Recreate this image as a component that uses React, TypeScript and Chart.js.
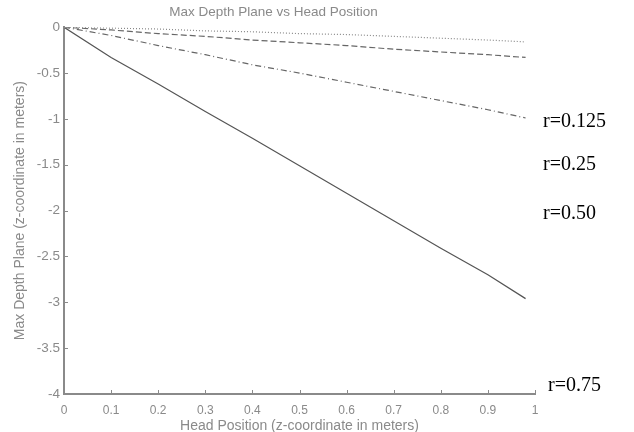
import React, { useEffect, useRef } from "react";
import { Chart, registerables } from "chart.js";
Chart.register(...registerables);

const xR0125 = [0, 0.1, 0.2, 0.3, 0.4, 0.5, 0.6, 0.7, 0.8, 0.9, 0.98];
const solidY = [0, -0.33, -0.62, -0.92, -1.21, -1.51, -1.81, -2.11, -2.41, -2.70, -2.96];
const dashDotY = [0, -0.09, -0.2, -0.3, -0.41, -0.5, -0.6, -0.7, -0.8, -0.9, -0.99];
const dashedY = [0, -0.03, -0.07, -0.1, -0.14, -0.17, -0.2, -0.24, -0.27, -0.3, -0.33];
const dottedY = [0, -0.01, -0.02, -0.04, -0.05, -0.07, -0.08, -0.1, -0.12, -0.14, -0.16];
const rLabels = ["r=0.125", "r=0.25", "r=0.50", "r=0.75"];
const rLabelY = [-1.035, -1.5, -2.03, -3.91];

const title = "Max Depth Plane vs Head Position";
const xTitle = "Head Position (z-coordinate in meters)";
const yTitle = "Max Depth Plane (z-coordinate in meters)";

const GRAY = "#8a8a8a";
const FONT = "Arial, 'Liberation Sans', sans-serif";

const pts = (ys: number[]) => ys.map((y, i) => ({ x: xR0125[i], y }));

const extras = {
  id: "extras",
  afterDraw(chart: any) {
    const { ctx, chartArea, scales } = chart;
    const xs = scales.x, ys = scales.y;
    ctx.save();
    ctx.strokeStyle = GRAY;
    ctx.lineWidth = 1;
    for (let v = 0.1; v <= 1.0001; v += 0.1) {
      const px = Math.round(xs.getPixelForValue(v)) + 0.5;
      ctx.beginPath();
      ctx.moveTo(px, chartArea.bottom);
      ctx.lineTo(px, chartArea.bottom - 4);
      ctx.stroke();
    }
    for (let v = -4; v <= 0.0001; v += 0.5) {
      const py = Math.round(ys.getPixelForValue(v)) + 0.5;
      ctx.beginPath();
      ctx.moveTo(chartArea.left, py);
      ctx.lineTo(chartArea.left + 4, py);
      ctx.stroke();
    }
    ctx.fillStyle = "#000";
    ctx.font = "20px 'Liberation Serif', 'Times New Roman', serif";
    ctx.textBaseline = "middle";
    ctx.textAlign = "left";
    rLabels.forEach((t, i) => {
      ctx.fillText(t, chartArea.right + (i === 3 ? 13 : 8), ys.getPixelForValue(rLabelY[i]));
    });
    ctx.restore();
  },
};

export default function App() {
  const ref = useRef<HTMLCanvasElement>(null);
  useEffect(() => {
    document.body.style.margin = "0";
    const chart = new Chart(ref.current!, {
      type: "line",
      data: {
        datasets: [
          { data: pts(solidY), borderColor: "#555", borderWidth: 1.2, pointRadius: 0 },
          { data: pts(dashDotY), borderColor: "#666", borderWidth: 1.2, borderDash: [6, 3, 1, 3], pointRadius: 0 },
          { data: pts(dashedY), borderColor: "#666", borderWidth: 1.2, borderDash: [6, 3], pointRadius: 0 },
          { data: pts(dottedY), borderColor: "#888", borderWidth: 1.2, borderDash: [1, 2], pointRadius: 0 },
        ],
      },
      plugins: [extras],
      options: {
        responsive: false,
        animation: false,
        layout: { padding: { left: 12, right: 99, top: 0, bottom: 0 } },
        plugins: {
          legend: { display: false },
          tooltip: { enabled: false },
          title: {
            display: true,
            text: title,
            color: GRAY,
            font: { family: FONT, size: 13.5, weight: "normal" },
            padding: { top: 4, bottom: 7 },
          },
        },
        scales: {
          x: {
            type: "linear",
            min: 0,
            max: 1,
            ticks: {
              stepSize: 0.1,
              color: GRAY,
              font: { family: FONT, size: 12 },
              padding: 9,
              maxRotation: 0,
              callback: (v: any) => String(Math.round(Number(v) * 10) / 10),
            },
            grid: { display: true, drawOnChartArea: false, drawTicks: false },
            border: { color: GRAY, width: 2 },
            title: {
              display: true,
              text: xTitle,
              color: GRAY,
              font: { family: FONT, size: 14 },
              padding: { top: 0, bottom: -3 },
            },
            afterFit: (s: any) => { s.height = 38; },
          },
          y: {
            type: "linear",
            min: -4,
            max: 0,
            ticks: {
              stepSize: 0.5,
              color: GRAY,
              font: { family: FONT, size: 13.5 },
              padding: 4,
              callback: (v: any) => String(Math.round(Number(v) * 10) / 10),
            },
            grid: { display: true, drawOnChartArea: false, drawTicks: false },
            border: { color: GRAY, width: 2 },
            title: {
              display: true,
              text: yTitle,
              color: GRAY,
              font: { family: FONT, size: 14 },
              padding: { top: 0, bottom: 0 },
            },
            afterFit: (s: any) => { s.width = 52; },
          },
        },
      },
    } as any);
    return () => chart.destroy();
  }, []);
  return (
    <div style={{ width: 634, height: 432 }}>
      <canvas ref={ref} width={634} height={432} />
    </div>
  );
}
